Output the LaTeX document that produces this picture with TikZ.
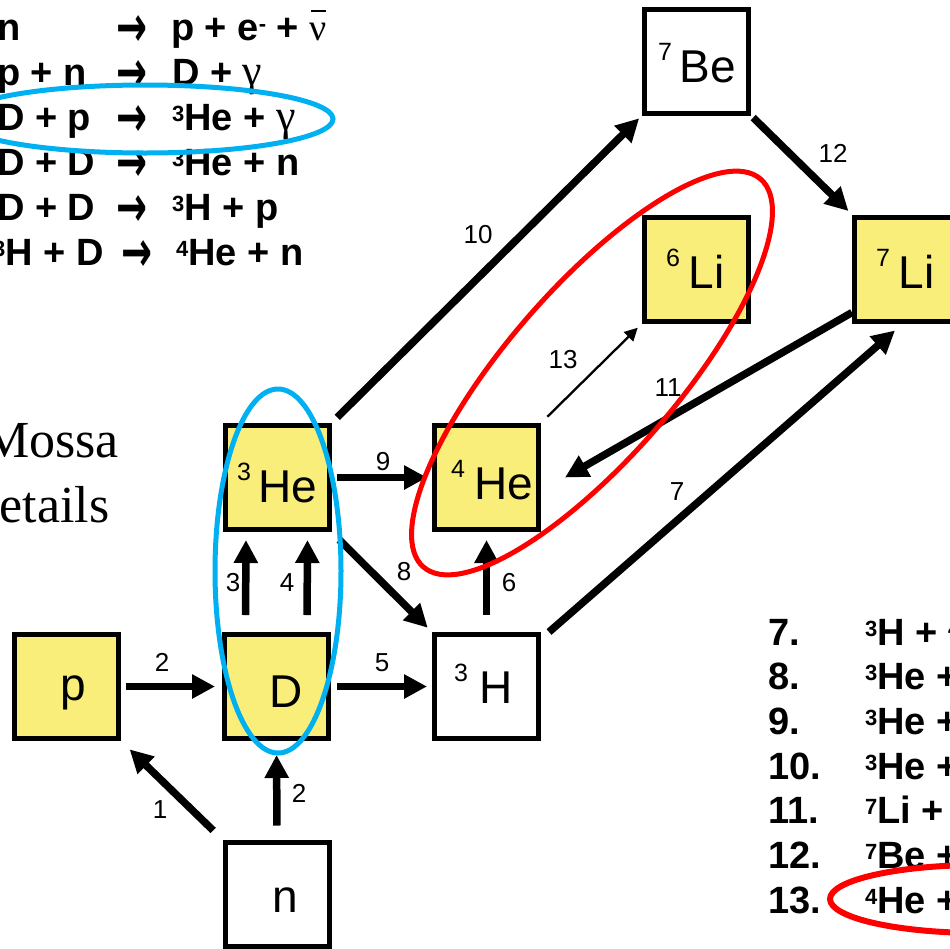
\documentclass[tikz,border=0pt]{standalone}
\usepackage{fontspec}
\setmainfont{Liberation Sans}
\newfontfamily\serifx{Liberation Serif}
\newfontfamily\arrowfont{DejaVu Sans}
\usetikzlibrary{arrows.meta}
\definecolor{boxyellow}{RGB}{249,238,122}
\definecolor{ringblue}{RGB}{0,176,240}
\definecolor{ringred}{RGB}{255,0,0}
\newcommand{\iso}[3]{\raisebox{22pt}{\fontsize{25}{25}\selectfont #2}\hspace{#1}#3}
\newcommand{\supb}[1]{\raisebox{9pt}{\fontsize{22}{22}\selectfont #1}}
\newcommand{\grk}[1]{{\serifx\mdseries\fontsize{44}{45}\selectfont #1}}
\newcommand{\nubar}{\rlap{\hspace{2pt}\raisebox{28pt}{\rule{15pt}{2pt}}}{\serifx\mdseries ν}}
\newcommand{\bigto}{\smash{\raisebox{-6pt}{\scalebox{1}[1.55]{\arrowfont\bfseries\fontsize{37}{45}\selectfont →}}}}
\begin{document}
\begin{tikzpicture}[x=1pt,y=-1pt,
  box/.style={draw=black, line width=5pt, minimum width=104pt, minimum height=104pt, inner sep=0pt},
  ybox/.style={box, fill=boxyellow},
  isotxt/.style={font=\fontsize{46}{50}\selectfont, inner sep=0pt, anchor=base west},
  num/.style={font=\fontsize{26}{26}\selectfont, inner sep=0pt},
  eqtxt/.style={font=\bfseries\fontsize{38}{45}\selectfont, inner sep=0pt, anchor=base west},
  bigarrow/.style={line width=7.5pt, -{Triangle[length=23pt,width=23pt]}},
  thinarrow/.style={line width=2.3pt, -{Triangle[length=13pt,width=13pt]}},
  bluering/.style={draw=ringblue, line width=5pt},
  redring/.style={draw=ringred, line width=5pt},
  sidetxt/.style={font=\serifx\fontsize{52}{60}\selectfont, inner sep=0pt, anchor=base east}
]
\useasboundingbox (0,0) rectangle (950,948);
\clip (0,0) rectangle (950,948);

% boxes
\node[ybox] (p)   at (66.5,686.5) {};
\node[ybox] (D)   at (276.5,686.5) {};
\node[box]  (n)   at (277,894) {};
\node[ybox] (He3) at (277,477.5) {};
\node[ybox] (He4) at (486.5,477.5) {};
\node[box]  (H3)  at (486.5,686.5) {};
\node[box]  (Be7) at (696.5,61) {};
\node[ybox] (Li6) at (696.5,269) {};
\node[ybox] (Li7) at (906.5,269) {};

% box texts
\node[isotxt] (tp)   at (60,700) {p};
\node[isotxt] (tD)   at (269.5,707) {D};
\node[isotxt] (tn)   at (272,912) {n};
\node[isotxt] (tHe3) at (237,502) {\iso{7.5pt}{3}{He}};
\node[isotxt] (tHe4) at (451,499) {\iso{9.5pt}{4}{He}};
\node[isotxt] (tH3)  at (454,703) {\iso{11.5pt}{3}{H}};
\node[isotxt] (tBe7) at (658,82) {\iso{7.5pt}{7}{Be}};
\node[isotxt] (tLi6) at (666,288) {\iso{8.5pt}{6}{Li}};
\node[isotxt] (tLi7) at (876,288) {\iso{8.5pt}{7}{Li}};

% connectors
\draw[bigarrow, shorten <=13pt, shorten >=12pt] (n.north west) -- (p.south east);
\draw[bigarrow, shorten <=5pt, shorten >=7pt] (p.east) -- (D.west);
\draw[bigarrow, shorten <=14pt, shorten >=14pt] (n.north) -- (D.south);
\draw[bigarrow, shorten <=17pt, shorten >=8pt] ([xshift=-31pt]D.north) -- ([xshift=-31pt]He3.south);
\draw[bigarrow, shorten <=17pt, shorten >=8pt] ([xshift=30.5pt]D.north) -- ([xshift=30.5pt]He3.south);
\draw[bigarrow, shorten <=6pt, shorten >=5pt] (D.east) -- (H3.west);
\draw[bigarrow, shorten <=17pt, shorten >=8pt] (H3.north) -- (He4.south);
\draw[bigarrow, shorten <=11pt, shorten >=6pt] (He3.south east) -- (H3.north west);
\draw[bigarrow, shorten <=5pt, shorten >=5pt] (He3.east) -- (He4.west);
\draw[bigarrow, shorten <=8pt, shorten >=4pt] (He3.north east) -- (Be7.south west);
\draw[bigarrow, shorten <=3pt, shorten >=5pt] (Be7.south east) -- (Li7.north west);
\draw[thinarrow, shorten <=9pt, shorten >=6pt] (He4.north east) -- (Li6.south west);
\draw[bigarrow] ([xshift=8pt]H3.north east) -- ([xshift=43pt,yshift=-7pt]Li7.south west);
\draw[bigarrow] ([yshift=11pt]Li7.south west) -- ([xshift=24pt]He4.east);

% reaction numbers
\node[num] (k1)  at (160,810) {1};
\node[num] (k2a) at (162,662) {2};
\node[num] (k2b) at (299,793) {2};
\node[num] (k3)  at (233,583) {3};
\node[num] (k4)  at (287,583) {4};
\node[num] (k5)  at (382,663) {5};
\node[num] (k6)  at (509,583) {6};
\node[num] (k7)  at (677,492) {7};
\node[num] (k8)  at (404,572) {8};
\node[num] (k9)  at (383,462) {9};
\node[num] (k10) at (478,235) {10};
\node[num] (k11) at (668,388) {11};
\node[num] (k12) at (833,153) {12};
\node[num] (k13) at (563,360) {13};

% top-left reactions
\node[eqtxt] (l1) at (-3,40) {n};
\node[eqtxt] (a1) at (116,40) {\bigto};
\node[eqtxt] (r1) at (171,40) {p + e\supb{-} + \nubar};
\node[eqtxt] (l2) at (-3,85) {p + n};
\node[eqtxt] (a2) at (116,85) {\bigto};
\node[eqtxt] (r2) at (172,85) {D + \grk{γ}};
\node[eqtxt] (l3) at (-3,130) {D + p};
\node[eqtxt] (a3) at (116,130) {\bigto};
\node[eqtxt] (r3) at (172,130) {\supb{3}He + \grk{γ}};
\node[eqtxt] (l4) at (-3,175) {D + D};
\node[eqtxt] (a4) at (116,175) {\bigto};
\node[eqtxt] (r4) at (172,175) {\supb{3}He + n};
\node[eqtxt] (l5) at (-3,220) {D + D};
\node[eqtxt] (a5) at (116,220) {\bigto};
\node[eqtxt] (r5) at (172,220) {\supb{3}H + p};
\node[eqtxt] (l6) at (-7,265) {\supb{3}H + D};
\node[eqtxt] (a6) at (121,265) {\bigto};
\node[eqtxt] (r6) at (176,265) {\supb{4}He + n};

% side text
\node[sidetxt] (s1) at (119,457) {Mossa};
\node[sidetxt] (s2) at (109.5,522) {etails};

% bottom-right list
\node[eqtxt] (m7)  at (768,645) {7.};
\node[eqtxt] (m8)  at (768,689.7) {8.};
\node[eqtxt] (m9)  at (768,734.3) {9.};
\node[eqtxt] (m10) at (768,779) {10.};
\node[eqtxt] (m11) at (768,823.8) {11.};
\node[eqtxt] (m12) at (768,868.5) {12.};
\node[eqtxt] (m13) at (768,913.2) {13.};
\node[eqtxt] (q7)  at (865,645) {\supb{3}H + \supb{4}};
\node[eqtxt] (q8)  at (865,689.7) {\supb{3}He +};
\node[eqtxt] (q9)  at (865,734.3) {\supb{3}He +};
\node[eqtxt] (q10) at (865,779) {\supb{3}He +};
\node[eqtxt] (q11) at (865,823.8) {\supb{7}Li +};
\node[eqtxt] (q12) at (865,868.5) {\supb{7}Be +};
\node[eqtxt] (q13) at (865,913.2) {\supb{4}He +};

% highlight rings
\draw[bluering] (145,119) ellipse [x radius=188, y radius=34];
\draw[bluering] (278,571) ellipse [x radius=63, y radius=182];
\begin{scope}[shift={(592,373)}, rotate=49]
  \draw[redring] (0,0) ellipse [x radius=257, y radius=85];
\end{scope}
\draw[redring, line width=6pt] (980,899) ellipse [x radius=150, y radius=34];
\end{tikzpicture}
\end{document}
